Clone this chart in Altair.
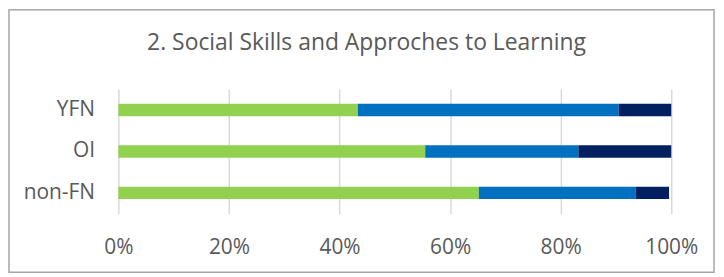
import altair as alt
import pandas as pd

groups = ["YFN", "OI", "non-FN"]
series = ["Series 1", "Series 2", "Series 3"]
colors = ["#92D050", "#0070C0", "#002060"]
series1 = [43.3, 55.5, 65.2]
series2 = [47.2, 27.7, 28.4]
series3 = [9.5, 16.8, 6.0]
x_ticks = [0, 0.2, 0.4, 0.6, 0.8, 1.0]
title_text = "2. Social Skills and Approches to Learning"

rows = []
for si, (s, vals) in enumerate(zip(series, [series1, series2, series3])):
    for g, v in zip(groups, vals):
        rows.append({"group": g, "series": s, "order": si, "share": v / 100})
df = pd.DataFrame(rows)

FONT = "Open Sans"
TXT = "#595959"

bars = alt.Chart(df).mark_bar().encode(
    x=alt.X(
        "share:Q",
        stack="zero",
        scale=alt.Scale(domain=[0, 1], nice=False),
        axis=alt.Axis(
            values=x_ticks, format=".0%", grid=True, gridColor="#d9d9d9",
            gridWidth=1.5, domain=False, ticks=False, tickSize=0,
            labelPadding=23, labelFontSize=21, labelColor=TXT, labelFont=FONT,
            labelFlush=False, title=None,
        ),
    ),
    y=alt.Y(
        "group:N",
        sort=groups,
        scale=alt.Scale(paddingInner=0.7, paddingOuter=0.35),
        axis=alt.Axis(
            title=None, domain=False, ticks=False, tickSize=0, labelPadding=24,
            labelFontSize=21, labelColor=TXT, labelFont=FONT, grid=False,
        ),
    ),
    color=alt.Color("series:N", scale=alt.Scale(domain=series, range=colors), legend=None),
    order=alt.Order("order:Q"),
)

border = alt.Chart(alt.Data(values=[{}])).mark_rect(
    fill="transparent", stroke="#a6a6a6", strokeWidth=1.5
).encode(
    x=alt.value(-110), x2=alt.value(599), y=alt.value(-80), y2=alt.value(184)
)

title = alt.Chart(alt.Data(values=[{}])).mark_text(
    text=title_text, font=FONT, fontSize=23, color=TXT,
    align="center", baseline="alphabetic",
).encode(x=alt.value(249.5), y=alt.value(-40))

chart = alt.layer(border, bars, title).properties(
    width=556,
    height=125,
    autosize=alt.AutoSizeParams(type="none"),
    padding={"left": 111, "top": 81, "right": 45, "bottom": 62},
).configure_view(strokeWidth=0)

chart.save("out.html", embed_options={"renderer": "svg", "actions": False})
